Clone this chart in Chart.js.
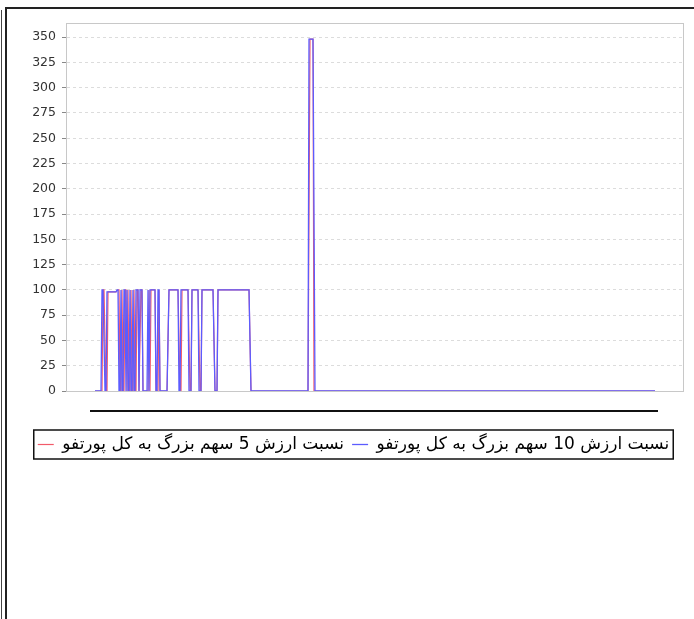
<!DOCTYPE html>
<html>
<head>
<meta charset="utf-8">
<script src="https://cdn.jsdelivr.net/npm/chart.js@4"></script>
<style>
  html, body { margin: 0; padding: 0; background: #fff; }
  body { width: 694px; height: 619px; position: relative; overflow: hidden; }
  #frame { position: absolute; left: 5px; top: 7px; width: 700px; height: 620px;
           border-left: 2px solid #222; border-top: 2px solid #222; }
  #edge { position: absolute; left: 1px; top: 10px; width: 1px; height: 620px; background: #444; }
  #wrap { position: absolute; left: 0; top: 0; width: 694px; height: 619px; }
</style>
</head>
<body>
<div id="edge"></div>
<div id="frame"></div>
<div id="wrap"><canvas id="chart"></canvas></div>
<script>
// day index along the (unlabelled) x axis
const blueDays = [0, 6, 7, 8, 10, 11, 12, 21, 22, 23, 24, 25, 26, 27, 28, 29, 30, 31, 32, 33, 34, 35, 36, 37, 38, 39, 40, 41, 43, 44, 45, 47, 48, 52, 53, 54, 55, 60, 61, 62, 63, 64, 65, 72, 74, 83, 84, 85, 86, 93, 94, 96, 97, 103, 104, 106, 107, 118, 120, 122, 123, 154, 156, 213, 214, 218, 220, 560];
const blueVals = [0, 0, 100, 100, 0, 0, 98, 98, 100, 100, 0, 0, 100, 0, 0, 100, 100, 0, 100, 0, 0, 100, 0, 0, 100, 0, 0, 100, 100, 0, 100, 100, 0, 0, 100, 0, 100, 100, 0, 0, 100, 100, 0, 0, 100, 100, 0, 0, 100, 100, 0, 0, 100, 100, 0, 0, 100, 100, 0, 0, 100, 100, 0, 0, 348, 348, 0, 0];

const redDays = [0, 7, 8, 9, 11, 12, 13, 21, 23, 24, 25, 26, 27, 28, 29, 30, 31, 32, 33, 34, 35, 36, 37, 38, 39, 40, 41, 42, 43, 44, 46, 47, 48, 53, 54, 55, 56, 60, 61, 63, 64, 65, 72, 74, 83, 85, 86, 87, 93, 95, 96, 97, 103, 105, 106, 107, 118, 120, 122, 123, 154, 156, 213, 215, 218, 219, 560];
const redVals = [0, 0, 100, 100, 0, 0, 98, 98, 100, 100, 0, 0, 100, 0, 0, 100, 100, 0, 100, 0, 0, 100, 0, 0, 100, 0, 0, 100, 100, 0, 100, 100, 0, 0, 100, 0, 100, 100, 0, 0, 100, 0, 0, 100, 100, 0, 0, 100, 100, 0, 0, 100, 100, 0, 0, 100, 100, 0, 0, 100, 100, 0, 0, 348, 348, 0, 0];

const seriesNames = ["نسبت ارزش 10 سهم بزرگ به کل پورتفو", "نسبت ارزش 5 سهم بزرگ به کل پورتفو"];
const yTicks = [0, 25, 50, 75, 100, 125, 150, 175, 200, 225, 250, 275, 300, 325, 350];

function toPoints(days, vals) {
  return days.map((d, i) => ({ x: d, y: vals[i] }));
}

const FONT = "'DejaVu Sans', sans-serif";

// frame of plot, line under the axis and the box round the legend
const extras = {
  id: "extras",
  afterDraw(chart) {
    const ctx = chart.ctx;
    const a = chart.chartArea;
    const xs = chart.scales.x;
    ctx.save();
    ctx.strokeStyle = "#c8c8c8";
    ctx.lineWidth = 1;
    ctx.strokeRect(a.left + 0.5, a.top + 0.5, a.right - a.left - 1, a.bottom - a.top);

    const x0 = xs.getPixelForValue(blueDays[0]) - 5;
    const x1 = xs.getPixelForValue(blueDays[blueDays.length - 1]) + 3;
    ctx.strokeStyle = "#111";
    ctx.lineWidth = 2;
    ctx.beginPath();
    ctx.moveTo(x0, a.bottom + 20);
    ctx.lineTo(x1, a.bottom + 20);
    ctx.stroke();

    const boxes = chart.legend.legendHitBoxes;
    if (boxes && boxes.length) {
      let l = Infinity, t = Infinity, r = -Infinity, b = -Infinity;
      boxes.forEach((h) => {
        l = Math.min(l, h.left); t = Math.min(t, h.top);
        r = Math.max(r, h.left + h.width); b = Math.max(b, h.top + h.height);
      });
      ctx.strokeStyle = "#111";
      ctx.lineWidth = 1.5;
      ctx.strokeRect(l - 4, t - 6, r - l + 8, b - t + 12);
    }
    ctx.restore();
  }
};

new Chart(document.getElementById("chart"), {
  type: "line",
  data: {
    datasets: [
      {
        label: seriesNames[0],
        data: toPoints(blueDays, blueVals),
        borderColor: "#5c5cff",
        backgroundColor: "#5c5cff",
        borderWidth: 1.3,
        pointRadius: 0,
        tension: 0
      },
      {
        label: seriesNames[1],
        data: toPoints(redDays, redVals),
        borderColor: "#f25a6a",
        backgroundColor: "#f25a6a",
        borderWidth: 1.2,
        pointRadius: 0,
        tension: 0
      }
    ]
  },
  options: {
    responsive: true,
    maintainAspectRatio: false,
    animation: false,
    layout: { padding: { top: 23, right: 10, left: 23, bottom: 156 } },
    plugins: {
      tooltip: { enabled: false },
      legend: {
        position: "bottom",
        reverse: true,
        labels: {
          usePointStyle: true,
          pointStyle: "line",
          pointStyleWidth: 16,
          padding: 8,
          color: "#000",
          font: { family: FONT, size: 17 }
        }
      }
    },
    scales: {
      x: {
        type: "linear",
        min: -29,
        max: 589,
        ticks: { display: false },
        grid: { display: false },
        border: { display: false },
        afterFit: (s) => { s.height = 37; }
      },
      y: {
        min: 0,
        max: 364,
        afterFit: (s) => { s.width = 43; },
        afterBuildTicks: (s) => { s.ticks = yTicks.map((v) => ({ value: v })); },
        ticks: {
          padding: 6,
          color: "#333",
          font: { family: FONT, size: 12.5 }
        },
        grid: {
          color: "#dcdcdc",
          tickColor: "#888",
          tickLength: 4,
          drawTicks: true
        },
        border: { display: true, color: "#999", dash: [3, 3] }
      }
    }
  },
  plugins: [extras]
});
</script>
</body>
</html>
